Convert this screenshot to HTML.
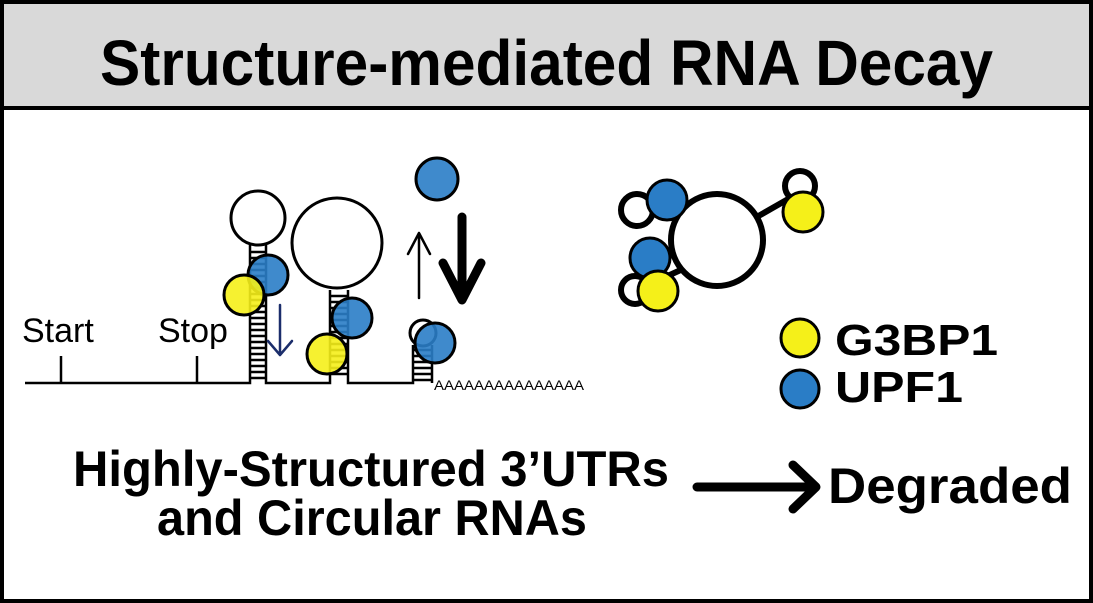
<!DOCTYPE html>
<html><head><meta charset="utf-8"><style>html,body{margin:0;padding:0;background:#fff}svg{display:block}</style></head>
<body>
<svg width="1093" height="603" viewBox="0 0 1093 603" xmlns="http://www.w3.org/2000/svg" font-family="Liberation Sans, sans-serif">
<defs>
<marker id="hn" markerWidth="10" markerHeight="10" refX="5" refY="1" orient="auto" markerUnits="userSpaceOnUse"></marker>
</defs>
<rect x="0" y="0" width="1093" height="603" fill="#fff"/>
<rect x="0" y="0" width="1093" height="109" fill="#d9d9d9"/>
<line x1="0" y1="108" x2="1093" y2="108" stroke="#000" stroke-width="4"/>
<rect x="2" y="2" width="1089" height="599" fill="none" stroke="#000" stroke-width="4"/>
<text x="100" y="85" font-size="64" font-weight="bold" textLength="893" lengthAdjust="spacingAndGlyphs">Structure-mediated RNA Decay</text>

<!-- baseline mRNA -->
<g stroke="#000" stroke-width="2.5" fill="none">
<path d="M25 383 H250 V245 M266 245 V383 H330 V290 M348 290 V383 H413 V345 M432 345 V383"/>
<line x1="61" y1="356" x2="61" y2="383"/>
<line x1="197" y1="356" x2="197" y2="383"/>
</g>
<!-- stem ladders -->
<g stroke="#000" stroke-width="2.5">
<path d="M251 252H265M251 258H265M251 264H265M251 270H265M251 276H265M251 282H265M251 288H265M251 294H265M251 300H265M251 306H265M251 312H265M251 318H265M251 324H265M251 330H265M251 336H265M251 342H265M251 348H265M251 354H265M251 360H265M251 366H265M251 372H265M251 378H265"/>
<path d="M331 296H347M331 302H347M331 308H347M331 314H347M331 320H347M331 326H347M331 332H347M331 338H347M331 344H347M331 350H347M331 356H347M331 362H347M331 368H347M331 374H347"/>
<path d="M414 350H431M414 356H431M414 362H431M414 368H431M414 374H431M414 380H431"/>
</g>
<circle cx="258" cy="218" r="27" fill="#fff" stroke="#000" stroke-width="3"/>
<circle cx="337" cy="243" r="45" fill="#fff" stroke="#000" stroke-width="3"/>
<circle cx="423" cy="333" r="13" fill="#fff" stroke="#000" stroke-width="3"/>
<text x="22" y="342" font-size="34">Start</text>
<text x="158" y="342" font-size="34">Stop</text>
<text x="434" y="390" font-size="14" textLength="150" lengthAdjust="spacingAndGlyphs">AAAAAAAAAAAAAAA</text>

<g stroke="#000" stroke-width="3" fill-opacity="0.9">
<circle cx="268" cy="275" r="20" fill="#2a7dc6"/>
<circle cx="244" cy="295" r="20" fill="#f5f019"/>
<circle cx="352" cy="318" r="20" fill="#2a7dc6"/>
<circle cx="327" cy="354" r="20" fill="#f5f019"/>
<circle cx="435" cy="343" r="20" fill="#2a7dc6"/>
<circle cx="437" cy="179" r="21" fill="#2a7dc6"/>
</g>
<!-- arrows -->
<g fill="none" stroke-linecap="round" stroke-linejoin="round">
<path d="M280 305 V355 M268 341 L280 355 L292 341" stroke="#1b2d6b" stroke-width="2.5"/>
<path d="M419 298 V233 M408 254 L419 233 L430 254" stroke="#000" stroke-width="2.5"/>
<path d="M462 217 V298 M443 263 L462 300 L481 263" stroke="#000" stroke-width="9"/>
</g>

<!-- circular RNA -->
<g stroke="#000" stroke-width="6" fill="#fff">
<circle cx="637" cy="210" r="16"/>
<circle cx="800" cy="186" r="15"/>
<circle cx="635" cy="290" r="14"/>
<line x1="650" y1="212" x2="680" y2="215"/>
<line x1="648" y1="285" x2="685" y2="268"/>
<line x1="755" y1="218" x2="790" y2="198"/>
<circle cx="717" cy="240" r="46"/>
</g>
<g stroke="#000" stroke-width="3">
<circle cx="667" cy="200" r="20" fill="#2a7dc6"/>
<circle cx="650" cy="258" r="20" fill="#2a7dc6"/>
<circle cx="658" cy="291" r="20" fill="#f5f019"/>
<circle cx="803" cy="212" r="20" fill="#f5f019"/>
</g>

<!-- legend -->
<circle cx="800" cy="338" r="19" fill="#f5f019" stroke="#000" stroke-width="3"/>
<circle cx="800" cy="389" r="19" fill="#2a7dc6" stroke="#000" stroke-width="3"/>
<text x="835" y="355" font-size="44" font-weight="bold" textLength="163" lengthAdjust="spacingAndGlyphs">G3BP1</text>
<text x="835" y="402" font-size="44" font-weight="bold" textLength="128" lengthAdjust="spacingAndGlyphs">UPF1</text>

<!-- bottom -->
<text x="73" y="486" font-size="50" font-weight="bold" textLength="596" lengthAdjust="spacingAndGlyphs">Highly-Structured 3’UTRs</text>
<text x="157" y="535" font-size="50" font-weight="bold" textLength="430" lengthAdjust="spacingAndGlyphs">and Circular RNAs</text>
<path d="M697 487 H812 M793 465 L816 487 L793 509" fill="none" stroke="#000" stroke-width="9" stroke-linecap="round" stroke-linejoin="round"/>
<text x="828" y="503" font-size="50" font-weight="bold" textLength="244" lengthAdjust="spacingAndGlyphs">Degraded</text>
</svg>
</body></html>
